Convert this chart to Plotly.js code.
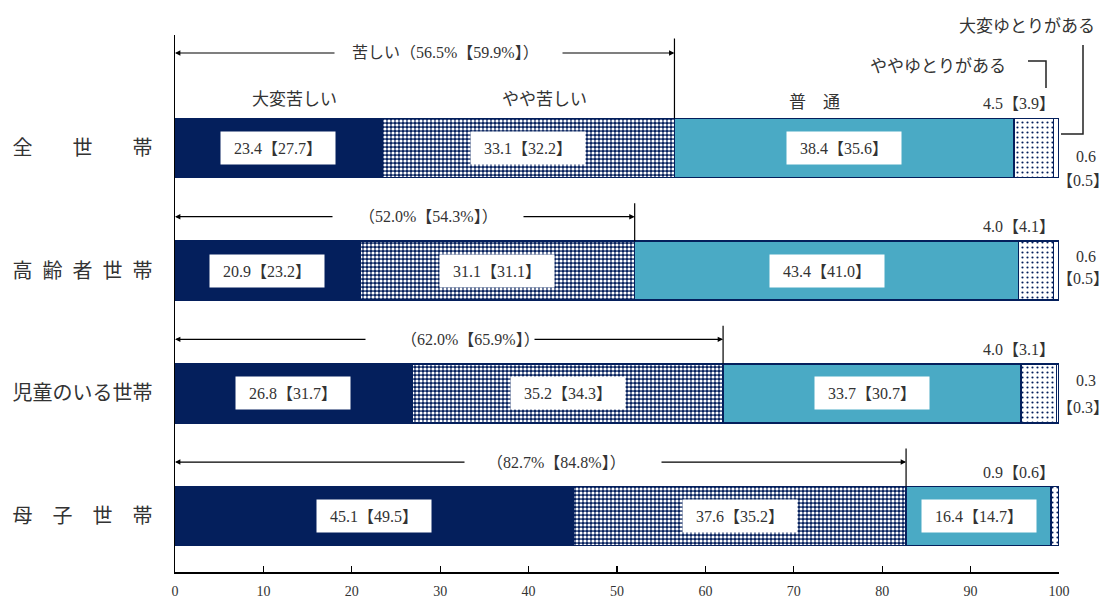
<!DOCTYPE html>
<html><head><meta charset="utf-8">
<script src="https://cdn.plot.ly/plotly-3.0.1.min.js"></script>
<style>html,body{margin:0;padding:0;background:#fff}#chart{width:1109px;height:602px}</style>
</head><body><div id="chart"></div>
<script>
// ---- data ----
const categories = ['全世帯', '高齢者世帯', '児童のいる世帯', '母子世帯'];
const categoryLabels = ['全　　世　　帯', '高\u2002齢\u2002者\u2002世\u2002帯', '児童のいる世帯', '母　子　世　帯'];
const seriesNames = ['大変苦しい', 'やや苦しい', '普通', 'ややゆとりがある', '大変ゆとりがある'];
const veryHard = [23.4, 20.9, 26.8, 45.1];
const veryHardPrev = [27.7, 23.2, 31.7, 49.5];
const ratherHard = [33.1, 31.1, 35.2, 37.6];
const ratherHardPrev = [32.2, 31.1, 34.3, 35.2];
const normal = [38.4, 43.4, 33.7, 16.4];
const normalPrev = [35.6, 41.0, 30.7, 14.7];
const ratherComfort = [4.5, 4.0, 4.0, 0.9];
const ratherComfortPrev = [3.9, 4.1, 3.1, 0.6];
const veryComfort = [0.6, 0.6, 0.3, null];
const veryComfortPrev = [0.5, 0.5, 0.3, null];
const hardTotal = [56.5, 52.0, 62.0, 82.7];
const hardTotalPrev = [59.9, 54.3, 65.9, 84.8];
const xTicks = [0, 10, 20, 30, 40, 50, 60, 70, 80, 90, 100];

// ---- style ----
const NAVY = '#041f5c';
const TEAL = '#4aaac5';
const TXT = '#333333';
const SERIF = 'Liberation Serif, Noto Sans CJK JP, serif';
const JP = 'Noto Sans CJK JP, sans-serif';

const rows = categories.map((_, i) => i);
const PLOT_TOP = 35, PLOT_H = 537, PLOT_L = 175, PLOT_W = 884;
const Y_RANGE = [3.456, -0.921];
const rowPx = i => PLOT_TOP + (i - Y_RANGE[1]) / (Y_RANGE[0] - Y_RANGE[1]) * PLOT_H;
const paperY = py => 1 - (py - PLOT_TOP) / PLOT_H;
const paperX = px => (px - PLOT_L) / PLOT_W;
const BAR_HALF = 29.5;

function barTrace(name, vals, fill) {
  return {
    type: 'bar', orientation: 'h', name: name, y: rows, x: vals, width: 0.48,
    hoverinfo: 'name+x',
    marker: Object.assign({ line: { color: NAVY, width: 1.5 } }, fill)
  };
}

const traces = [
  barTrace(seriesNames[0], veryHard, { color: NAVY }),
  barTrace(seriesNames[1], ratherHard, { color: NAVY, pattern: { shape: '.', bgcolor: NAVY, fgcolor: '#ffffff', size: 4, solidity: 0.5, fillmode: 'replace' } }),
  barTrace(seriesNames[2], normal, { color: TEAL }),
  barTrace(seriesNames[3], ratherComfort, { color: '#ffffff', pattern: { shape: '.', bgcolor: '#ffffff', fgcolor: NAVY, size: 5, solidity: 0.15, fillmode: 'replace' } }),
  barTrace(seriesNames[4], veryComfort, { color: '#ffffff' })
];

const fmt = (a, b) => a.toFixed(1) + '【' + b.toFixed(1) + '】';

const annotations = [];
const shapes = [];
function txt(t, px, py, size, family, xanchor) {
  annotations.push({
    x: paperX(px), y: paperY(py), xref: 'paper', yref: 'paper', text: t, showarrow: false,
    xanchor: xanchor || 'center', yanchor: 'middle',
    font: { family: family || SERIF, size: size || 16, color: TXT }
  });
}

// value boxes in the three big segments
const boxSeries = [[veryHard, veryHardPrev], [ratherHard, ratherHardPrev], [normal, normalPrev]];
rows.forEach(i => {
  let start = 0;
  boxSeries.forEach(([v, p]) => {
    annotations.push({
      x: start + v[i] / 2, y: i, xref: 'x', yref: 'y', text: fmt(v[i], p[i]), showarrow: false,
      xanchor: 'center', yanchor: 'middle',
      bgcolor: '#ffffff', width: 104, height: 22, borderpad: 5,
      font: { family: SERIF, size: 16, color: TXT }
    });
    start += v[i];
  });
  // small ややゆとり label above right end
  txt(fmt(ratherComfort[i], ratherComfortPrev[i]), 1057, rowPx(i) - 44, 16, SERIF, 'right');
  // 大変ゆとり labels to the right
  if (veryComfort[i] !== null) {
    const offs = i === 0 ? [9, 33] : (i === 1 ? [-14, 8] : [-13, 14]);
    txt(veryComfort[i].toFixed(1), 1086, rowPx(i) + offs[0]);
    txt('【' + veryComfortPrev[i].toFixed(1) + '】', 1083, rowPx(i) + offs[1]);
  }
  // bracket arrows for 苦しい total
  const arrowOff = i === 0 ? -95 : -54;
  const arrowY = i + arrowOff / (rowPx(1) - rowPx(0));
  const textCx = [445, 428, 470, 556][i];
  const gapL = [336, 334, 367, 466][i];
  const gapR = [561, 522, 533, 660][i];
  const label = (i === 0 ? '苦しい' : '') + '（' + hardTotal[i].toFixed(1) + '%【' + hardTotalPrev[i].toFixed(1) + '%】）';
  txt(label, textCx, rowPx(i) + arrowOff);
  annotations.push({
    x: 0, y: arrowY, xref: 'x', yref: 'y', ax: (gapL - PLOT_L) / PLOT_W * 100, ay: arrowY, axref: 'x', ayref: 'y',
    text: '', showarrow: true, arrowhead: 2, arrowsize: 0.9, arrowwidth: 1.2, arrowcolor: '#000', standoff: 0
  });
  annotations.push({
    x: hardTotal[i], y: arrowY, xref: 'x', yref: 'y', ax: (gapR - PLOT_L) / PLOT_W * 100, ay: arrowY, axref: 'x', ayref: 'y',
    text: '', showarrow: true, arrowhead: 2, arrowsize: 0.9, arrowwidth: 1.2, arrowcolor: '#000', standoff: 0
  });
  // vertical bracket end line
  const top = rowPx(i) - BAR_HALF;
  shapes.push({
    type: 'line', xref: 'x', yref: 'paper', x0: hardTotal[i], x1: hardTotal[i],
    y0: paperY(top - (i === 0 ? 80 : 38)), y1: paperY(top), line: { color: '#000', width: 1.2 }
  });
});

// category header labels
txt('大変苦しい', 294, 97, 17, JP);
txt('やや苦しい', 544, 97, 17, JP);
txt('普　通', 814, 101, 17, JP);
txt('ややゆとりがある', 938, 64, 17, JP);
txt('大変ゆとりがある', 1027, 25, 17, JP);

// leader lines
shapes.push({
  type: 'path', xref: 'paper', yref: 'paper',
  path: `M ${paperX(1028)} ${paperY(61)} L ${paperX(1046)} ${paperY(61)} L ${paperX(1046)} ${paperY(88)}`,
  line: { color: '#222', width: 1.5 }
});
shapes.push({
  type: 'path', xref: 'paper', yref: 'paper',
  path: `M ${paperX(1083)} ${paperY(45)} L ${paperX(1083)} ${paperY(134)} L ${paperX(1061)} ${paperY(134)}`,
  line: { color: '#222', width: 1.5 }
});

const layout = {
  width: 1109, height: 602,
  margin: { l: PLOT_L, r: 1109 - PLOT_L - PLOT_W, t: PLOT_TOP, b: 602 - PLOT_TOP - PLOT_H, pad: 0 },
  paper_bgcolor: '#ffffff', plot_bgcolor: '#ffffff',
  barmode: 'stack', showlegend: false, bargap: 0,
  xaxis: {
    range: [0, 100], tickvals: xTicks, ticktext: xTicks.map(String), ticks: 'inside', ticklen: 6, tickwidth: 1.2,
    tickcolor: '#000', showline: true, linecolor: '#000', linewidth: 1.5, showgrid: false, zeroline: false,
    tickfont: { family: SERIF, size: 14, color: TXT }, ticklabelstandoff: 6, fixedrange: true
  },
  yaxis: {
    range: Y_RANGE, tickvals: rows, ticktext: categoryLabels, ticks: '', showline: true, linecolor: '#000',
    linewidth: 1.5, showgrid: false, zeroline: false, ticklabelstandoff: 17,
    tickfont: { family: JP, size: 20, color: TXT }, fixedrange: true
  },
  annotations: annotations,
  shapes: shapes
};

Plotly.newPlot('chart', traces, layout, { displayModeBar: false, staticPlot: true });
</script>
</body></html>
